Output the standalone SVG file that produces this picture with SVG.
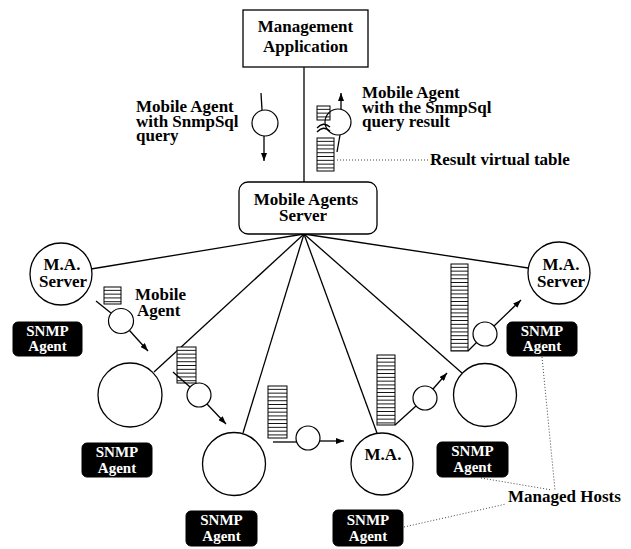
<svg xmlns="http://www.w3.org/2000/svg" width="631" height="549" viewBox="0 0 631 549">
<style>
text{font-family:"Liberation Serif","Times New Roman",serif;font-weight:bold;fill:#000}
.lbl{font-size:17px}
.mid{text-anchor:middle}
.snmp rect{fill:#000;stroke:#000}
.snmp text{font-size:15px;fill:#fff;text-anchor:middle}
.ln{stroke:#000;stroke-width:1.3;fill:none}
.dot{stroke:#444;stroke-width:1;stroke-dasharray:1 2;fill:none}
.node{fill:#fff;stroke:#000;stroke-width:1.3}
.ag{fill:#fff;stroke:#000;stroke-width:1.2}
.tbl{fill:url(#rows);stroke:#000;stroke-width:1}
</style>
<defs>
<pattern id="rows" patternUnits="userSpaceOnUse" width="4" height="3.8">
<rect x="0" y="0" width="4" height="3.8" fill="#fff"/>
<rect x="0" y="2.9" width="4" height="0.9" fill="#000"/>
</pattern>
<marker id="arr" markerUnits="userSpaceOnUse" markerWidth="8" markerHeight="6" refX="8" refY="3" orient="auto">
<path d="M0,0 L8,3 L0,6 z" fill="#000"/>
</marker>
</defs>
<rect width="631" height="549" fill="#fff"/>

<g id="connectors">
<line class="ln" x1="304" y1="67" x2="304" y2="182"/>
<line class="ln" x1="304" y1="234" x2="91" y2="269"/>
<line class="ln" x1="304" y1="234" x2="528" y2="268"/>
<line class="ln" x1="304" y1="234" x2="154" y2="372"/>
<line class="ln" x1="304" y1="234" x2="243" y2="433"/>
<line class="ln" x1="304" y1="234" x2="377" y2="433"/>
<line class="ln" x1="304" y1="234" x2="462" y2="373"/>
<line class="dot" x1="337" y1="160" x2="428" y2="160"/>
<line class="dot" x1="542" y1="357" x2="555" y2="490"/>
<line class="dot" x1="481" y1="478" x2="552" y2="490"/>
<line class="dot" x1="404" y1="527" x2="506" y2="504"/>
</g>

<g id="management-application">
<rect x="243" y="10" width="125" height="57" fill="#fff" stroke="#000" stroke-width="1.3"/>
<text class="lbl mid" x="305.5" y="32">Management</text>
<text class="lbl mid" x="305.5" y="52">Application</text>
</g>

<g id="mobile-agents-server">
<rect x="239" y="182" width="138" height="52" rx="9" class="node"/>
<text class="lbl mid" x="306" y="205">Mobile Agents</text>
<text class="lbl mid" x="303" y="221">Server</text>
</g>

<g id="agent-query">
<line class="ln" x1="261" y1="93" x2="262" y2="110"/>
<circle class="ag" cx="265" cy="123" r="13"/>
<line class="ln" x1="264" y1="136" x2="264" y2="161" marker-end="url(#arr)"/>
<text class="lbl" x="136" y="112">Mobile Agent</text>
<text class="lbl" x="136" y="127">with SnmpSql</text>
<text class="lbl" x="136" y="141">query</text>
</g>

<g id="agent-result">
<g transform="translate(317,106)"><rect class="tbl" x="0" y="0" width="13" height="14"/></g>
<path class="ln" d="M317,128 Q323,121 330,127 M317,132 Q323,125 330,131" stroke-width="1"/>
<g transform="translate(317,138)"><rect class="tbl" x="0" y="0" width="17" height="33"/></g>
<circle cx="338" cy="122" r="13" fill="none" stroke="#000" stroke-width="1.2"/>
<line class="ln" x1="340" y1="135" x2="337" y2="152"/>
<line class="ln" x1="341" y1="109" x2="341" y2="93" marker-end="url(#arr)"/>
<text class="lbl" x="362" y="98">Mobile Agent</text>
<text class="lbl" x="362" y="113">with the SnmpSql</text>
<text class="lbl" x="362" y="127">query result</text>
</g>

<g id="result-virtual-table-label">
<text class="lbl" x="430" y="165">Result virtual table</text>
</g>

<g id="ma-server-left">
<circle class="node" cx="61" cy="274" r="31"/>
<text class="lbl mid" x="62" y="270">M.A.</text>
<text class="lbl mid" x="63" y="287">Server</text>
</g>

<g id="ma-server-right">
<circle class="node" cx="559" cy="273" r="31"/>
<text class="lbl mid" x="561" y="270">M.A.</text>
<text class="lbl mid" x="561" y="287">Server</text>
</g>

<g id="host-a"><circle class="node" cx="130" cy="395" r="32"/></g>
<g id="host-b"><circle class="node" cx="234" cy="464" r="31.5"/></g>
<g id="host-c">
<circle class="node" cx="382" cy="464" r="31"/>
<text class="lbl mid" x="383" y="460">M.A.</text>
</g>
<g id="host-d"><circle class="node" cx="485" cy="395" r="31.5"/></g>

<g id="agent-1">
<g transform="translate(104,287)"><rect class="tbl" x="0" y="0" width="17" height="17"/></g>
<line class="ln" x1="96" y1="301" x2="111" y2="313"/>
<circle class="ag" cx="121" cy="321" r="12.5"/>
<line class="ln" x1="129.5" y1="330.5" x2="148" y2="351" marker-end="url(#arr)"/>
<text class="lbl" x="135" y="300">Mobile</text>
<text class="lbl" x="137" y="316">Agent</text>
</g>

<g id="agent-2">
<g transform="translate(177,347)"><rect class="tbl" x="0" y="0" width="19" height="36"/></g>
<line class="ln" x1="173" y1="372" x2="190" y2="387"/>
<circle class="ag" cx="199" cy="395" r="12"/>
<line class="ln" x1="207" y1="404" x2="226" y2="424" marker-end="url(#arr)"/>
</g>

<g id="agent-3">
<g transform="translate(268,386)"><rect class="tbl" x="0" y="0" width="19" height="52"/></g>
<line class="ln" x1="273" y1="442" x2="297" y2="442"/>
<circle class="ag" cx="308" cy="438" r="12"/>
<line class="ln" x1="320" y1="441" x2="344" y2="441" marker-end="url(#arr)"/>
</g>

<g id="agent-4">
<g transform="translate(377,355)"><rect class="tbl" x="0" y="0" width="18" height="70"/></g>
<line class="ln" x1="395" y1="425" x2="416" y2="406"/>
<circle class="ag" cx="425" cy="398" r="12"/>
<line class="ln" x1="433" y1="389" x2="447" y2="373" marker-end="url(#arr)"/>
</g>

<g id="agent-5">
<g transform="translate(451,264)"><rect class="tbl" x="0" y="0" width="17" height="87"/></g>
<line class="ln" x1="468" y1="351" x2="477" y2="342"/>
<circle class="ag" cx="485" cy="334" r="12"/>
<line class="ln" x1="494" y1="326" x2="521" y2="300" marker-end="url(#arr)"/>
</g>

<g id="snmp-1" class="snmp"><rect x="13" y="322" width="69" height="34" rx="5"/><text x="47.5" y="336">SNMP</text><text x="47.5" y="351">Agent</text></g>
<g id="snmp-2" class="snmp"><rect x="82" y="443" width="70" height="34" rx="5"/><text x="117" y="457">SNMP</text><text x="117" y="472.5">Agent</text></g>
<g id="snmp-3" class="snmp"><rect x="186" y="511" width="71" height="35" rx="5"/><text x="221.5" y="525">SNMP</text><text x="221.5" y="541">Agent</text></g>
<g id="snmp-4" class="snmp"><rect x="333" y="510" width="70" height="36" rx="5"/><text x="368" y="524.5">SNMP</text><text x="368" y="541">Agent</text></g>
<g id="snmp-5" class="snmp"><rect x="437" y="442" width="71" height="35" rx="5"/><text x="472.5" y="456">SNMP</text><text x="472.5" y="472">Agent</text></g>
<g id="snmp-6" class="snmp"><rect x="507" y="322" width="70" height="34" rx="5"/><text x="542" y="336">SNMP</text><text x="542" y="351">Agent</text></g>

<g id="managed-hosts-label">
<text class="lbl" x="508" y="502">Managed Hosts</text>
</g>
</svg>
